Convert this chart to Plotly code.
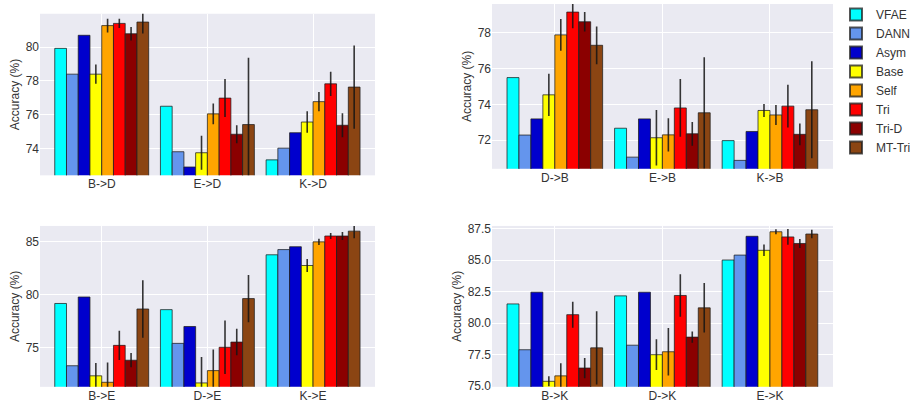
import plotly.graph_objects as go

methods = ["VFAE", "DANN", "Asym", "Base", "Self", "Tri", "Tri-D", "MT-Tri"]
colors = ["#00FFFF", "#6495ED", "#0000CD", "#FFFF00", "#FFA500", "#FF0000", "#8B0000", "#8B4513"]

# Panel: target D
cats_D = ["B->D", "E->D", "K->D"]
vals_D = [[79.92, 76.51, 73.35], [78.40, 73.83, 74.04], [80.69, 72.93, 74.95], [78.40, 73.77, 75.58],
          [81.26, 76.06, 76.78], [81.39, 76.99, 77.83], [80.78, 74.86, 75.39], [81.47, 75.43, 77.64]]
errs_D = [None, None, None, [0.57, 1.00, 0.63], [0.40, 0.61, 0.57], [0.27, 1.12, 0.71],
          [0.40, 0.53, 0.71], [0.67, 3.94, 2.45]]

# Panel: target B
cats_B = ["D->B", "E->B", "K->B"]
vals_B = [[75.49, 72.67, 71.98], [72.29, 71.06, 70.88], [73.19, 73.19, 72.49], [74.53, 72.14, 73.66],
          [77.87, 72.30, 73.41], [79.14, 73.80, 73.90], [78.60, 72.36, 72.33], [77.29, 73.53, 73.70]]
errs_B = [None, None, None, [1.18, 1.54, 0.36], [0.89, 0.93, 0.56], [0.90, 1.61, 1.19],
          [0.54, 0.66, 0.61], [1.05, 3.10, 2.70]]

# Panel: target E
cats_E = ["B->E", "D->E", "K->E"]
vals_E = [[79.19, 78.61, 83.78], [73.32, 75.43, 84.27], [79.80, 77.02, 84.54], [72.37, 71.70, 82.77],
          [71.76, 72.86, 85.00], [75.24, 75.06, 85.55], [73.84, 75.55, 85.55], [78.67, 79.65, 86.01]]
errs_E = [None, None, None, [1.22, 2.45, 0.61], [1.86, 1.99, 0.30], [1.38, 2.52, 0.28],
          [0.67, 1.25, 0.37], [2.72, 2.22, 0.67]]

# Panel: target K
cats_K = ["B->K", "D->K", "E->K"]
vals_K = [[81.52, 82.16, 85.00], [77.89, 78.25, 85.39], [82.45, 82.45, 86.88], [75.39, 77.50, 85.77],
          [75.82, 77.73, 87.24], [80.67, 82.19, 86.83], [76.44, 78.89, 86.31], [78.04, 81.21, 87.06]]
errs_K = [None, None, None, [0.39, 1.22, 0.46], [1.00, 1.89, 0.20], [1.03, 1.68, 0.62],
          [0.80, 0.44, 0.36], [2.91, 1.96, 0.33]]

W, H = 917, 414

def px_x(a, b):
    return [a / W, b / W]

def px_y(top, bottom):
    return [1 - bottom / H, 1 - top / H]

panels = [
    # cats, vals, errs, xdomain, ydomain, yrange, ticks, tickformat
    (cats_D, vals_D, errs_D, px_x(40, 375), px_y(10, 176), [72.44, 81.96], [74, 76, 78, 80], None),
    (cats_B, vals_B, errs_B, px_x(492, 833), px_y(0, 169.3), [70.41, 79.59], [72, 74, 76, 78], None),
    (cats_E, vals_E, errs_E, px_x(40, 375), px_y(228, 393.3), [71.33, 86.5], [75, 80, 85], None),
    (cats_K, vals_K, errs_K, px_x(492, 833), px_y(228, 393.3), [74.95, 87.7], [75, 77.5, 80, 82.5, 85, 87.5], ".1f"),
]

fig = go.Figure()
font_col = "#333333"
for p, (cats, vals, errs, xd, yd, yr, ticks, tf) in enumerate(panels):
    xa = "x" if p == 0 else f"x{p+1}"
    ya = "y" if p == 0 else f"y{p+1}"
    for m, name in enumerate(methods):
        err = None
        if errs[m] is not None:
            err = dict(type="data", array=errs[m], visible=True, color="rgba(20,20,20,0.85)",
                       thickness=1.6, width=0)
        fig.add_trace(go.Bar(
            x=cats, y=vals[m], name=name, marker=dict(color=colors[m],
            line=dict(color="rgba(30,30,30,0.75)", width=1)),
            error_y=err, xaxis=xa, yaxis=ya, showlegend=(p == 0), legendgroup=name,
            offsetgroup=str(m),
        ))
    axn = "" if p == 0 else str(p + 1)
    fig.layout["xaxis" + axn] = dict(domain=xd, anchor=ya, type="category", showgrid=True,
                                      gridcolor="white", gridwidth=1, zeroline=False, showline=False,
                                      ticks="", tickfont=dict(size=12, color=font_col),
                                      range=[-0.584, 2.586])
    fig.layout["yaxis" + axn] = dict(domain=yd, anchor=xa, range=yr, tickvals=ticks,
                                      tickformat=tf, showgrid=True, gridcolor="white", gridwidth=1,
                                      zeroline=False, showline=False, ticks="",
                                      tickfont=dict(size=12, color=font_col),
                                      title=dict(text="Accuracy (%)", font=dict(size=12, color=font_col),
                                                 standoff=3))

fig.update_layout(
    width=W, height=H, margin=dict(l=0, r=0, t=0, b=0),
    paper_bgcolor="white", plot_bgcolor="#EAEAF2",
    barmode="group", bargap=1/9, bargroupgap=0,
    font=dict(family="Liberation Sans, Arial, sans-serif", size=12, color=font_col),
    legend=dict(x=836 / W, y=1 + 4 / H, xanchor="left", yanchor="top",
                font=dict(size=12, color=font_col), bgcolor="rgba(0,0,0,0)",
                tracegroupgap=0, itemsizing="constant"),
)
fig.write_html("out.html")
